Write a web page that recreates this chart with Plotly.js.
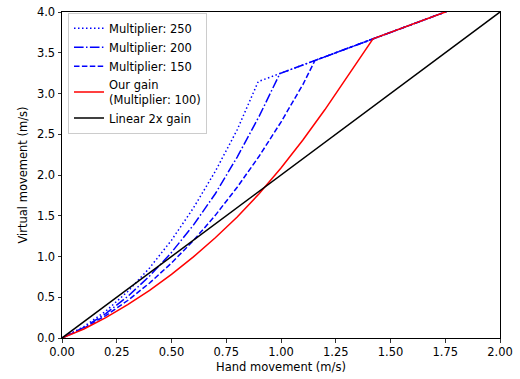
<!DOCTYPE html>
<html>
<head>
<meta charset="utf-8">
<script src="https://cdn.plot.ly/plotly-3.0.1.min.js"></script>
<style>html,body{margin:0;padding:0;background:#fff;}#chart{width:520px;height:379px;}</style>
</head>
<body>
<div id="chart"></div>
<script>
// Multiplier 250 (dotted)
const x250 = [0, 0.1, 0.2, 0.3, 0.4, 0.5, 0.6, 0.7, 0.8, 0.896, 0.995, 1.155, 1.42, 2.0];
const y250 = [0, 0.14, 0.33, 0.57, 0.86, 1.2, 1.595, 2.045, 2.555, 3.146, 3.245, 3.405, 3.67, 4.25];
// Multiplier 200 (dash-dot)
const x200 = [0, 0.1, 0.2, 0.3, 0.4, 0.5, 0.6, 0.7, 0.8, 0.9, 0.995, 1.155, 1.42, 2.0];
const y200 = [0, 0.13, 0.30, 0.51, 0.76, 1.05, 1.385, 1.77, 2.22, 2.72, 3.245, 3.405, 3.67, 4.25];
// Multiplier 150 (dashed)
const x150 = [0, 0.1, 0.2, 0.3, 0.4, 0.5, 0.6, 0.7, 0.8, 0.9, 1.0, 1.1, 1.155, 1.42, 2.0];
const y150 = [0, 0.12, 0.275, 0.46, 0.675, 0.92, 1.195, 1.505, 1.85, 2.23, 2.65, 3.11, 3.405, 3.67, 4.25];
// Our gain (Multiplier 100)
const xOur = [0, 0.1, 0.2, 0.3, 0.4, 0.5, 0.6, 0.7, 0.8, 0.9, 1.0, 1.1, 1.2, 1.3, 1.42, 1.75, 2.0];
const yOur = [0, 0.11, 0.25, 0.41, 0.585, 0.78, 0.995, 1.23, 1.485, 1.77, 2.085, 2.43, 2.80, 3.19, 3.67, 4.0, 4.25];
// Linear 2x gain
const xLin = [0, 2];
const yLin = [0, 4];

const names = ["Multiplier: 250", "Multiplier: 200", "Multiplier: 150", "Our gain<br>(Multiplier: 100)", "Linear 2x gain"];
const xTicks = [0, 0.25, 0.5, 0.75, 1.0, 1.25, 1.5, 1.75, 2.0];
const xTickText = ["0.00", "0.25", "0.50", "0.75", "1.00", "1.25", "1.50", "1.75", "2.00"];
const yTicks = [0, 0.5, 1.0, 1.5, 2.0, 2.5, 3.0, 3.5, 4.0];
const yTickText = ["0.0", "0.5", "1.0", "1.5", "2.0", "2.5", "3.0", "3.5", "4.0"];

const font = "DejaVu Sans, sans-serif";
const traces = [
  {x: x250, y: y250, name: names[0], mode: "lines", line: {color: "#0000ff", width: 1.5, dash: "1.5px,2.5px"}},
  {x: x200, y: y200, name: names[1], mode: "lines", line: {color: "#0000ff", width: 1.5, dash: "9.6px,2.4px,1.5px,2.4px"}},
  {x: x150, y: y150, name: names[2], mode: "lines", line: {color: "#0000ff", width: 1.5, dash: "5.5px,2.4px"}},
  {x: xOur, y: yOur, name: names[3], mode: "lines", line: {color: "#ff0000", width: 1.5}},
  {x: xLin, y: yLin, name: names[4], mode: "lines", line: {color: "#000000", width: 1.5}}
];

const layout = {
  width: 520, height: 379,
  margin: {l: 62, r: 20, t: 12, b: 41},
  paper_bgcolor: "#fff", plot_bgcolor: "#fff",
  font: {family: font, size: 11.5, color: "#000"},
  showlegend: true,
  legend: {
    x: 0.0137, y: 0.998, xanchor: "left", yanchor: "top",
    bgcolor: "rgba(255,255,255,0.8)", bordercolor: "#cccccc", borderwidth: 1,
    font: {family: font, size: 11.5, color: "#000"},
    tracegroupgap: 0
  },
  xaxis: {
    range: [0, 2], tickvals: xTicks, ticktext: xTickText,
    showgrid: false, zeroline: false, showline: true, linecolor: "#000", linewidth: 1, mirror: true,
    ticks: "outside", ticklen: 3.5, tickwidth: 0.8, tickcolor: "#000",
    title: {text: "Hand movement (m/s)", font: {family: font, size: 11.5}, standoff: 4}
  },
  yaxis: {
    range: [0, 4], tickvals: yTicks, ticktext: yTickText,
    showgrid: false, zeroline: false, showline: true, linecolor: "#000", linewidth: 1, mirror: true,
    ticks: "outside", ticklen: 3.5, tickwidth: 0.8, tickcolor: "#000",
    title: {text: "Virtual movement (m/s)", font: {family: font, size: 11.5}, standoff: 6}
  }
};

Plotly.newPlot("chart", traces, layout, {displayModeBar: false, staticPlot: true});
</script>
</body>
</html>
